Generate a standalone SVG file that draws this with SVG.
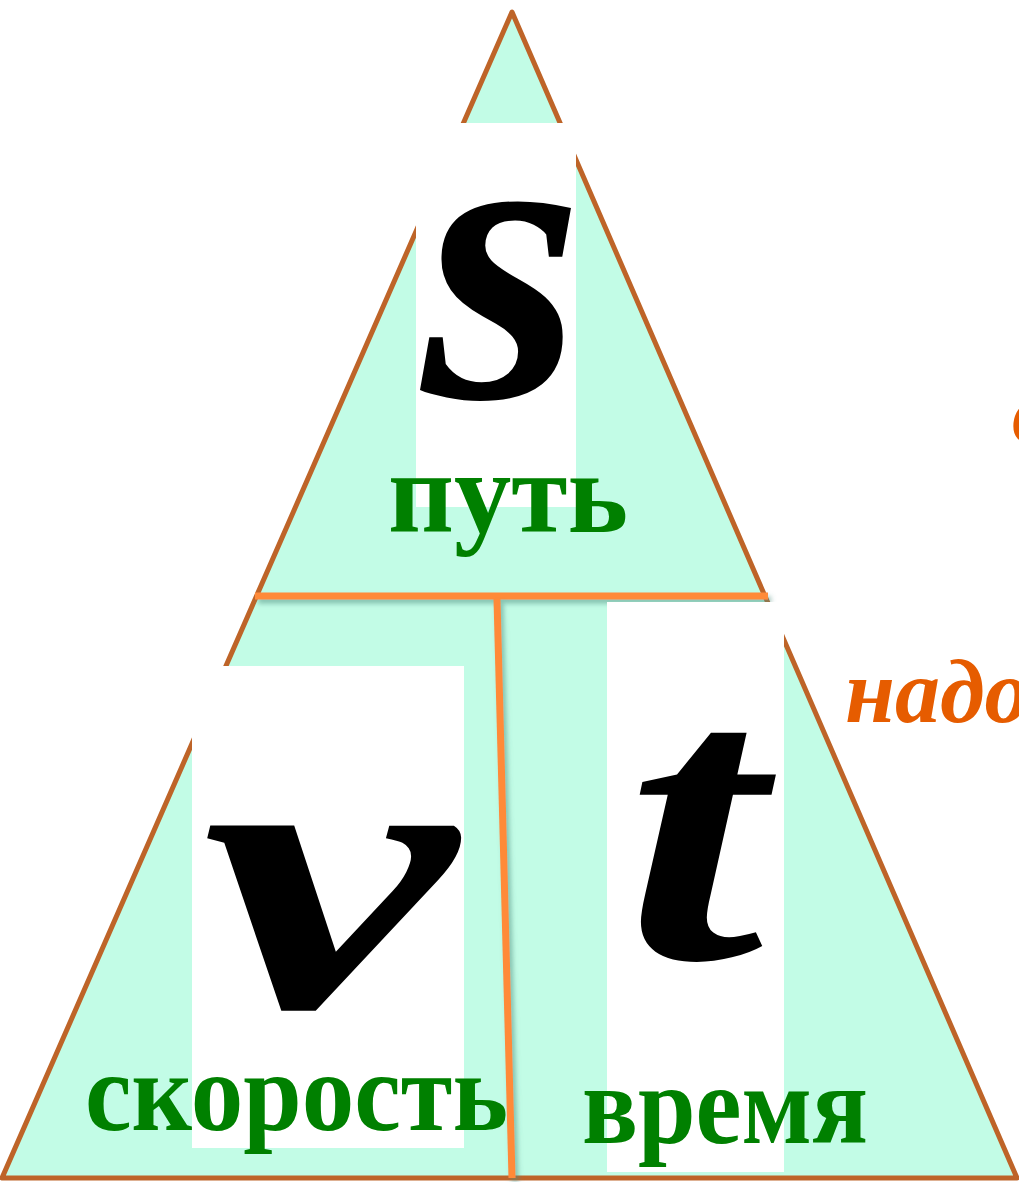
<svg xmlns="http://www.w3.org/2000/svg" width="1019" height="1182" viewBox="0 0 1019 1182">
<style>
.lbl{font-family:"Liberation Serif","Times New Roman",serif;font-weight:bold;fill:#008000}
.sym{font-family:"Liberation Serif","Times New Roman",serif;font-weight:bold;font-style:italic;fill:#000}
.note{font-family:"Liberation Serif","Times New Roman",serif;font-weight:bold;font-style:italic;fill:#E65C00}
.box{fill:#fff}
.div{stroke:#FF8A38;stroke-width:7;fill:none;filter:url(#sh)}
</style>
<defs>
<filter id="sh" filterUnits="userSpaceOnUse" x="0" y="0" width="1019" height="1182">
<feDropShadow dx="3" dy="4" stdDeviation="2.5" flood-color="#4f8f80" flood-opacity="0.55"/>
</filter>
</defs>
<rect width="1019" height="1182" fill="#fff"/>
<g id="triangle">
<polygon points="512,12 2,1178 1017,1178" fill="#C2FCE6" stroke="#BE6428" stroke-width="5" stroke-linejoin="round"/>
</g>
<g id="connectors">
<line class="div" x1="255" y1="596" x2="768" y2="596"/>
<line class="div" x1="497" y1="599" x2="512" y2="1178"/>
</g>
<g id="node-s">
<rect class="box" x="416" y="123" width="160" height="384"/>
<text class="sym" x="503" y="397" font-size="415" text-anchor="middle">s</text>
<text class="lbl" x="388" y="532" font-size="116" textLength="240" lengthAdjust="spacingAndGlyphs">путь</text>
</g>
<g id="node-v">
<rect class="box" x="192" y="666" width="272" height="482"/>
<text class="sym" x="0" y="1007" font-size="395" text-anchor="middle" transform="translate(329,0) scale(1.45,1)">v</text>
<text class="lbl" x="85" y="1130" font-size="113" textLength="423" lengthAdjust="spacingAndGlyphs">скорость</text>
</g>
<g id="node-t">
<rect class="box" x="607" y="602" width="177" height="570"/>
<text class="sym" x="0" y="958" font-size="400" text-anchor="middle" transform="translate(694,0) scale(1.25,1)">t</text>
<text class="lbl" x="582" y="1143" font-size="113" textLength="286" lengthAdjust="spacingAndGlyphs">время</text>
</g>
<g id="notes">
<text class="note" x="845" y="722" font-size="90">надо</text>
<text class="note" x="1012" y="442" font-size="88">в</text>
</g>
</svg>
